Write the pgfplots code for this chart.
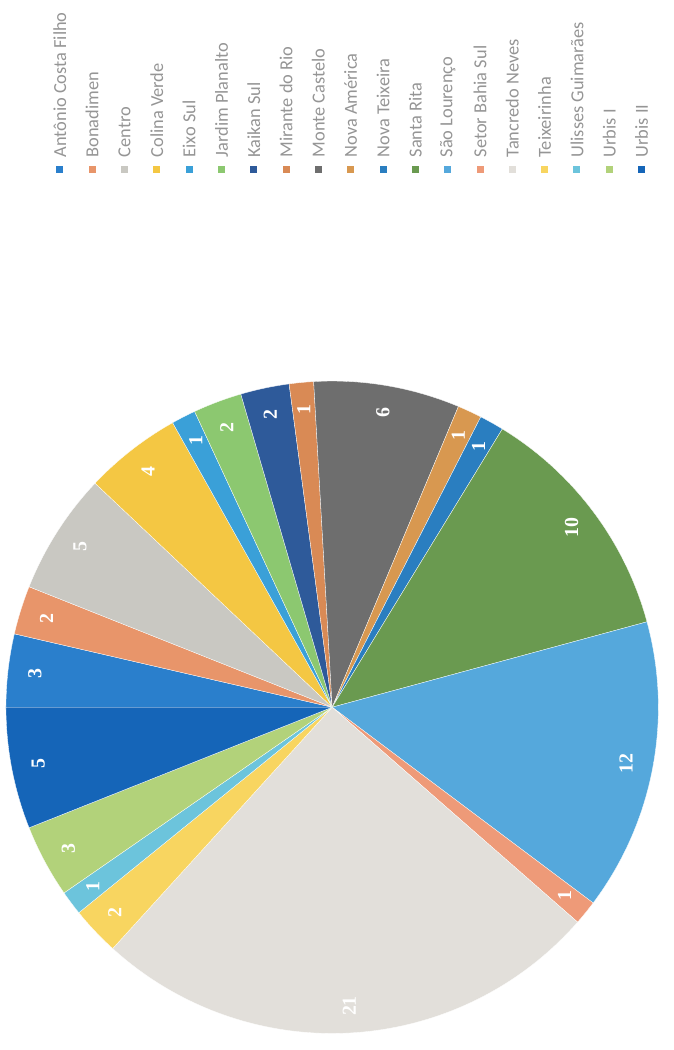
\documentclass[border=0pt]{standalone}
\usepackage{fontspec}
\setmainfont{Carlito}
\newfontfamily\labelserif{Liberation Serif}
\usepackage{pgfplots}
\usepackage{pgfplotstable}
\pgfplotsset{compat=1.18}

\definecolor{c1}{HTML}{2A7FCC}
\definecolor{c2}{HTML}{E8956A}
\definecolor{c3}{HTML}{C9C8C2}
\definecolor{c4}{HTML}{F4C743}
\definecolor{c5}{HTML}{3AA0D8}
\definecolor{c6}{HTML}{8CC870}
\definecolor{c7}{HTML}{2E5A9A}
\definecolor{c8}{HTML}{D98A55}
\definecolor{c9}{HTML}{6E6E6E}
\definecolor{c10}{HTML}{D89850}
\definecolor{c11}{HTML}{2A7EC0}
\definecolor{c12}{HTML}{6A9A50}
\definecolor{c13}{HTML}{55A8DC}
\definecolor{c14}{HTML}{EE9A78}
\definecolor{c15}{HTML}{E2DFDA}
\definecolor{c16}{HTML}{F8D560}
\definecolor{c17}{HTML}{6CC4DC}
\definecolor{c18}{HTML}{B2D27A}
\definecolor{c19}{HTML}{1565B8}
\definecolor{legendgray}{HTML}{959595}

\pgfplotstableread[col sep=comma]{
name,value,color
Antônio Costa Filho,3,c1
Bonadimen,2,c2
Centro,5,c3
Colina Verde,4,c4
Eixo Sul,1,c5
Jardim Planalto,2,c6
Kaikan Sul,2,c7
Mirante do Rio,1,c8
Monte Castelo,6,c9
Nova América,1,c10
Nova Teixeira,1,c11
Santa Rita,10,c12
São Lourenço,12,c13
Setor Bahia Sul,1,c14
Tancredo Neves,21,c15
Teixeirinha,2,c16
Ulisses Guimarães,1,c17
Urbis I,3,c18
Urbis II,5,c19
}\datatable

\begin{document}
\begin{tikzpicture}
\begin{axis}[
  scale only axis, width=661bp, height=1050bp,
  xmin=0, xmax=661, ymin=0, ymax=1050,
  hide axis, clip=false]
\draw[draw=none] (rel axis cs:0,0) rectangle (rel axis cs:1,1);
\pgfplotstablegetrowsof{\datatable}
\pgfmathtruncatemacro\nrows{\pgfplotsretval-1}
% total
\gdef\pietotal{0}
\pgfplotsforeachungrouped \i in {0,...,\nrows}{%
  \pgfplotstablegetelem{\i}{value}\of\datatable
  \pgfmathsetmacro\tmptot{\pietotal+\pgfplotsretval}%
  \global\let\pietotal\tmptot
}
\gdef\piecum{0}
\pgfplotsforeachungrouped \i in {0,...,\nrows}{%
  \pgfplotstablegetelem{\i}{value}\of\datatable \let\pval\pgfplotsretval
  \pgfplotstablegetelem{\i}{color}\of\datatable \let\pcol\pgfplotsretval
  \pgfplotstablegetelem{\i}{name}\of\datatable \let\pnm\pgfplotsretval
  \pgfmathsetmacro\psa{180-\piecum/\pietotal*360}%
  \pgfmathsetmacro\pcumn{\piecum+\pval}%
  \pgfmathsetmacro\pea{180-\pcumn/\pietotal*360}%
  \pgfmathsetmacro\pma{(\psa+\pea)/2}%
  \pgfmathsetmacro\plx{60+32.4*\i}%
  \pgfmathtruncatemacro\pival{\pval}%
  \edef\temp{%
    \noexpand\fill[\pcol, draw=white, line width=0.3pt]
      (axis cs:333,341) -- ([shift={(\psa:327bp)}]axis cs:333,341)
      arc[start angle=\psa, end angle=\pea, radius=327bp] -- cycle;
    \noexpand\node[rotate=90, text=white, inner sep=0pt,
      font=\noexpand\labelserif\noexpand\bfseries\noexpand\fontsize{20}{20}\noexpand\selectfont]
      at ([shift={(\pma:300bp)}]axis cs:333,341) {\pival};
    \noexpand\fill[\pcol] ([shift={(-3.5bp,-3.5bp)}]axis cs:\plx,880) rectangle ([shift={(3.5bp,3.5bp)}]axis cs:\plx,880);
    \noexpand\node[rotate=90, anchor=west, inner sep=0pt, text=legendgray,
      font=\noexpand\fontsize{18.5}{18.5}\noexpand\selectfont]
      at (axis cs:\plx,892) {\pnm};
  }%
  \temp
  \global\let\piecum\pcumn
}
\end{axis}
\end{tikzpicture}
\end{document}
